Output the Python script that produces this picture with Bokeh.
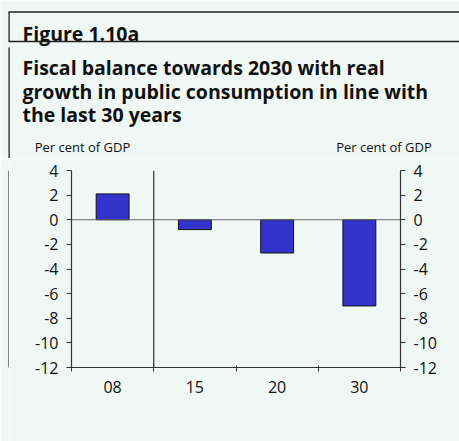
from bokeh.plotting import figure
from bokeh.layouts import column, row
from bokeh.models import Range1d, LinearAxis, FixedTicker, Span
from bokeh.core.properties import value
from bokeh.embed import file_html
from bokeh.resources import INLINE

# ---- data ----
categories = ["08", "15", "20", "30"]
values = [2.1, -0.8, -2.7, -7.0]
y_ticks = [4, 2, 0, -2, -4, -6, -8, -10, -12]
y_tick_labels = ["4", "2", "0", "-2", "-4", "-6", "-8", "-10", "-12"]
title_top = "Figure 1.10a"
title_lines = ["Fiscal balance towards 2030 with real",
               "growth in public consumption in line with",
               "the last 30 years"]
unit_label = "Per cent of GDP"

BG = "#eff8f5"
FONT = "Open Sans"
AX = "#333333"
TXT = "#111111"
BORDER = "#222222"

def bare(fig):
    fig.background_fill_color = BG
    fig.border_fill_color = BG
    fig.outline_line_color = None
    fig.xgrid.visible = False
    fig.ygrid.visible = False

# ---------------- header (texts and rules), pixel coordinates ----------------
HW, HH = 459, 158
hdr = figure(width=HW, height=HH, output_backend="svg", toolbar_location=None,
             x_range=Range1d(0, HW), y_range=Range1d(HH, 0),
             min_border=0, x_axis_location=None, y_axis_location=None)
bare(hdr)
hdr.text(x=[22], y=[32.5], text=[title_top], text_font=value(FONT), text_font_size="19.5px",
         text_font_style="bold", text_color=TXT, text_baseline="alphabetic")
hdr.text(x=[22, 22, 22], y=[67, 90.5, 114], text=title_lines, text_font=value(FONT),
         text_font_size="19.5px", text_font_style="bold", text_color=TXT,
         text_baseline="alphabetic")
hdr.text(x=[82, 383.5], y=[146, 146], text=[unit_label, unit_label], text_font=value(FONT),
         text_font_size="13px", text_color=TXT, text_align="center",
         text_baseline="alphabetic")
hdr.segment(x0=[8, 8, 8.6, 8.6], y0=[11.5, 41, 11.5, 47],
            x1=[HW, HW, 8.6, 8.6], y1=[11.5, 41, 41, HH],
            line_color=BORDER, line_width=1.3)

# ---------------- left margin with border rule ----------------
MH = 283
LW = 9
side = figure(width=LW, height=MH, output_backend="svg", toolbar_location=None,
              x_range=Range1d(0, LW), y_range=Range1d(0, MH),
              min_border=0, x_axis_location=None, y_axis_location=None)
bare(side)
side.segment(x0=[8.6], y0=[0], x1=[8.6], y1=[MH], line_color=BORDER, line_width=1.3)

# ---------------- main chart ----------------
MW = 450
p = figure(width=MW, height=MH, output_backend="svg", toolbar_location=None,
           x_range=Range1d(0, 4), y_range=Range1d(-12, 4),
           min_border_left=62, min_border_right=59, min_border_top=12, min_border_bottom=74,
           x_axis_location=None, y_axis_location=None)
bare(p)

centers = [i + 0.5 for i in range(len(categories))]
p.vbar(x=centers, top=values, bottom=0, width=0.4,
       fill_color="#3333cc", line_color=TXT, line_width=1)

p.add_layout(Span(location=0, dimension="width", line_color="#666666", line_width=1.2))
p.add_layout(Span(location=1, dimension="height", line_color=AX, line_width=1.2))

def yaxis(loc, standoff):
    ax = LinearAxis(ticker=FixedTicker(ticks=y_ticks, minor_ticks=[]))
    ax.major_label_overrides = {t: s for t, s in zip(y_ticks, y_tick_labels)}
    ax.axis_line_color = AX
    ax.axis_line_width = 1.2
    ax.major_tick_line_color = AX
    ax.major_tick_in = 0
    ax.major_tick_out = 5
    ax.major_label_standoff = standoff
    ax.major_label_text_font = FONT
    ax.major_label_text_font_size = "16px"
    ax.major_label_text_color = TXT
    ax.major_label_orientation = "horizontal"
    p.add_layout(ax, loc)
    return ax

yaxis("left", 8)
yaxis("right", 8)

xa = LinearAxis(ticker=FixedTicker(ticks=centers, minor_ticks=[0, 1, 2, 3, 4]))
xa.major_label_overrides = {c: lab for c, lab in zip(centers, categories)}
xa.axis_line_color = AX
xa.axis_line_width = 1.2
xa.major_tick_line_color = None
xa.major_tick_in = 0
xa.major_tick_out = 0
xa.minor_tick_line_color = AX
xa.minor_tick_in = 2
xa.minor_tick_out = 4
xa.major_label_standoff = 9
xa.major_label_text_font = FONT
xa.major_label_text_font_size = "16px"
xa.major_label_text_color = TXT
p.add_layout(xa, "below")

layout = column(hdr, row(side, p, spacing=0), spacing=0)
open("out.html", "w").write(file_html(layout, INLINE))
